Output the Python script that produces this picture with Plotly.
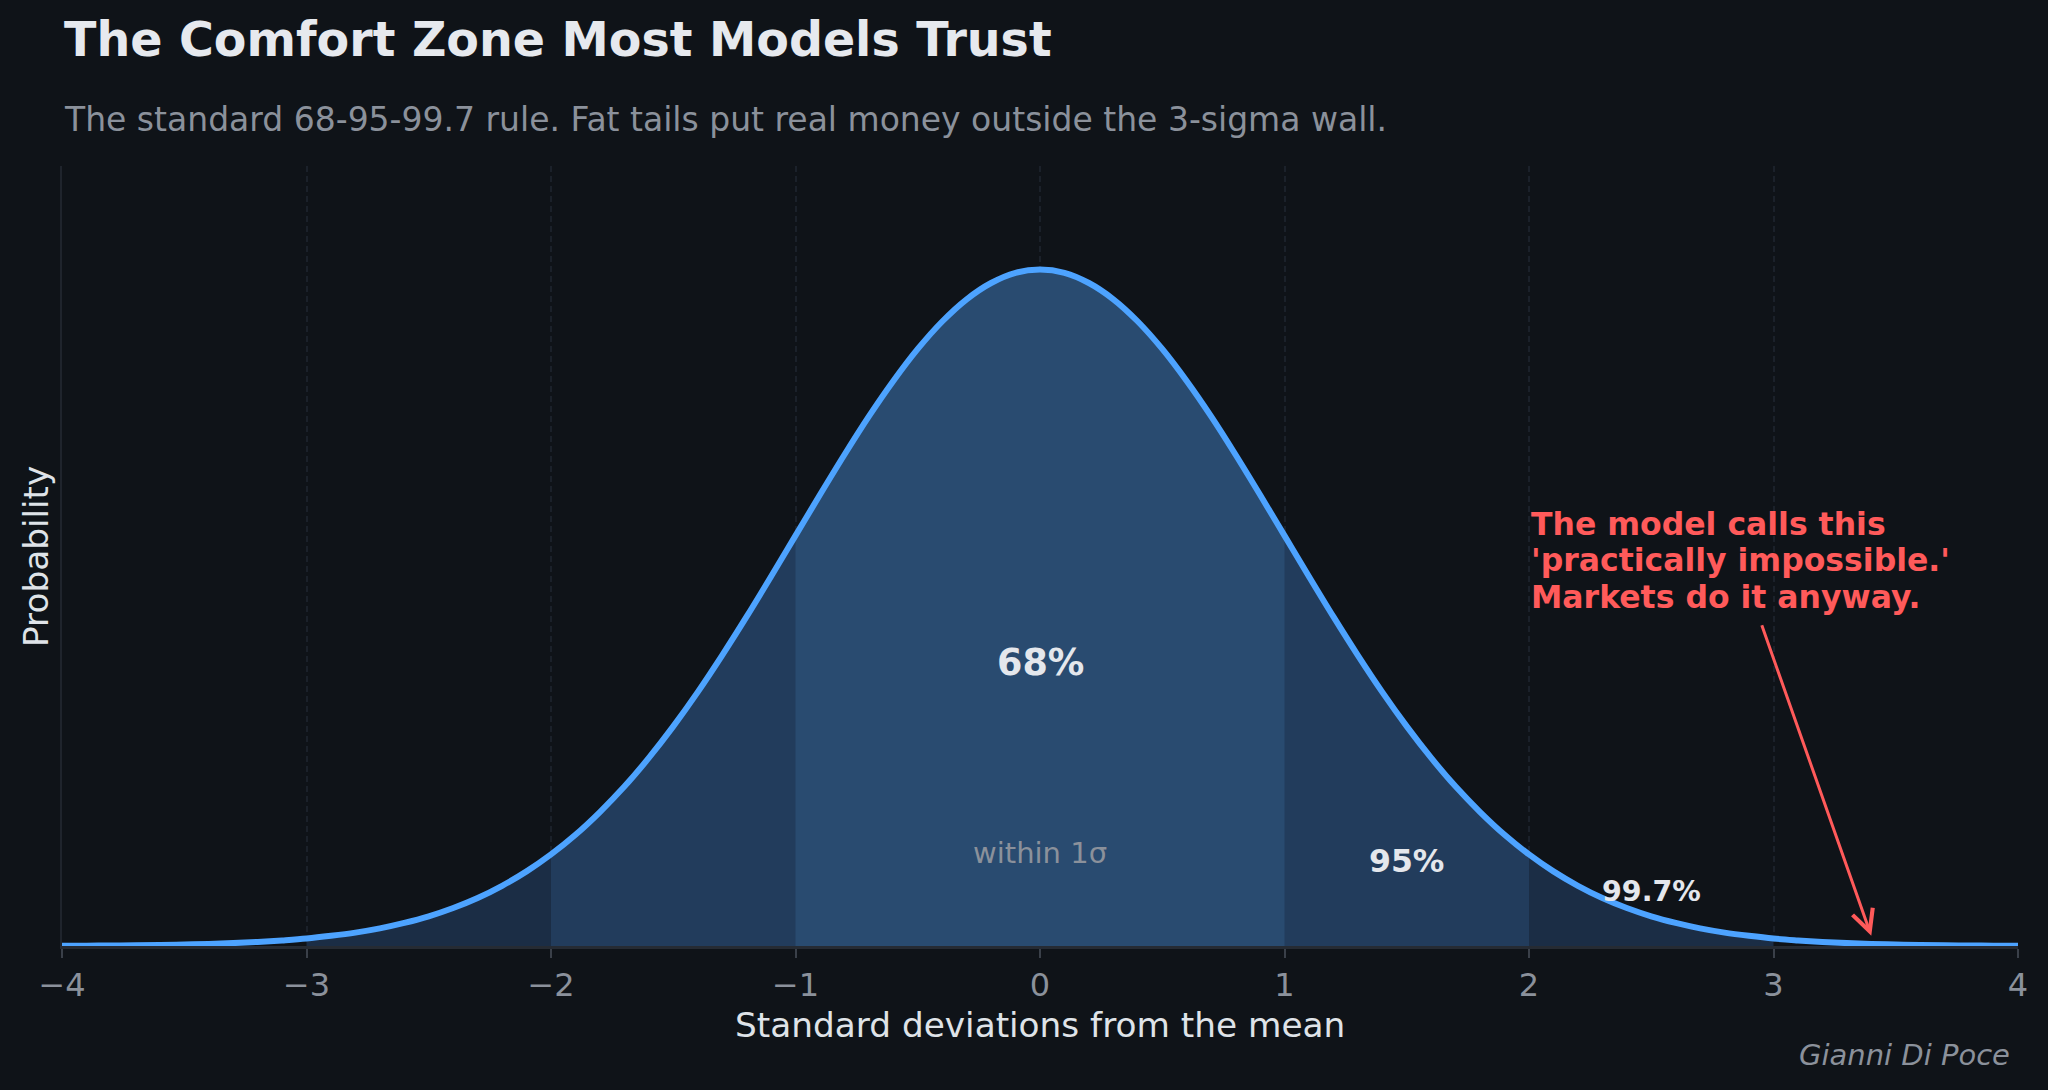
import plotly.graph_objects as go

# standard deviations from the mean, step 0.1
x_sigma = [round(-4 + i * 0.1, 1) for i in range(81)]

# density, x = 0.0 .. 4.0 (curve is symmetric)
density_right = [
    0.3989, 0.3970, 0.3910, 0.3814, 0.3683, 0.3521, 0.3332, 0.3123, 0.2897, 0.2661,
    0.2420, 0.2179, 0.1942, 0.1714, 0.1497, 0.1295, 0.1109, 0.0940, 0.0790, 0.0656,
    0.0540, 0.0440, 0.0355, 0.0283, 0.0224, 0.0175, 0.0136, 0.0104, 0.0079, 0.0060,
    0.0044, 0.0033, 0.0024, 0.0017, 0.0012, 0.0009, 0.0006, 0.0004, 0.0003, 0.0002,
    0.0001,
]
density = density_right[:0:-1] + density_right

band_limits = [3, 2, 1]
band_colors = ["#1b2d45", "#223c5c", "#294b70"]

tick_vals = [-4, -3, -2, -1, 0, 1, 2, 3, 4]
tick_text = ["\u22124", "\u22123", "\u22122", "\u22121", "0", "1", "2", "3", "4"]

band_labels = ["68%", "95%", "99.7%"]
band_label_x = [0, 1.5, 2.5]
band_label_y = [0.167, 0.05, 0.032]
band_label_size = [36.5, 31.5, 28.5]

callout_lines = ["The model calls this", "'practically impossible.'", "Markets do it anyway."]
callout_y = [0.2487, 0.2275, 0.2059]

BG = "#0f1318"
FONT = "DejaVu Sans"
CURVE = "#4da3ff"
RED = "#ff5a5a"
GREY = "#8b919b"
LIGHT = "#e4e7ec"

fig = go.Figure()

# shaded bands, widest first so the inner ones sit on top
for lim, col in zip(band_limits, band_colors):
    xs = [xv for xv in x_sigma if -lim <= xv <= lim]
    ys = [yv for xv, yv in zip(x_sigma, density) if -lim <= xv <= lim]
    fig.add_trace(go.Scatter(x=xs, y=ys, mode="lines", fill="tozeroy", line_shape="spline",
                             fillcolor=col, line=dict(width=0), hoverinfo="skip"))

fig.add_trace(go.Scatter(x=x_sigma, y=density, mode="lines", line_shape="spline",
                         line=dict(color=CURVE, width=6), hoverinfo="skip"))

# percentage labels
for t, xv, yv, sz in zip(band_labels, band_label_x, band_label_y, band_label_size):
    fig.add_annotation(x=xv, y=yv, text="<b>" + t + "</b>", showarrow=False,
                       font=dict(family=FONT, size=sz, color=LIGHT))
fig.add_annotation(x=0, y=0.055, text="within 1\u03c3", showarrow=False,
                   font=dict(family=FONT, size=29, color=GREY))

# tail callout, one line per annotation to keep matplotlib-like spacing
for line, yv in zip(callout_lines, callout_y):
    fig.add_annotation(x=2.0, y=yv, xanchor="left", yanchor="middle",
                       text="<b>" + line + "</b>", showarrow=False,
                       font=dict(family=FONT, size=31.5, color=RED))
fig.add_annotation(x=3.4, y=0.006, ax=2.95, ay=0.19, axref="x", ayref="y",
                   text="", showarrow=True, arrowhead=5, arrowsize=1.4,
                   arrowwidth=3, arrowcolor=RED)

# title block
fig.add_annotation(xref="paper", yref="paper", x=0, y=1.1628, xanchor="left", yanchor="middle",
                   text="<b>The Comfort Zone Most Models Trust</b>", showarrow=False,
                   font=dict(family=FONT, size=47.5, color="#e6e9ee"))
fig.add_annotation(xref="paper", yref="paper", x=0, y=1.059, xanchor="left", yanchor="middle",
                   text="The standard 68-95-99.7 rule. Fat tails put real money outside the 3-sigma wall.",
                   showarrow=False, font=dict(family=FONT, size=33, color=GREY))

# axis titles and credit
fig.add_annotation(xref="paper", yref="paper", x=0.5, y=-0.1013, xanchor="center", yanchor="middle",
                   text="Standard deviations from the mean", showarrow=False,
                   font=dict(family=FONT, size=34.3, color="#dfe3e8"))
fig.add_annotation(xref="paper", yref="paper", x=-0.0133, y=0.5, xanchor="center", yanchor="middle",
                   textangle=-90, text="Probability", showarrow=False,
                   font=dict(family=FONT, size=34.3, color="#dfe3e8"))
fig.add_annotation(xref="paper", yref="paper", x=0.9968, y=-0.1397, xanchor="right", yanchor="middle",
                   text="<i>Gianni Di Poce</i>", showarrow=False,
                   font=dict(family=FONT, size=29, color=GREY))

fig.update_layout(
    width=2048, height=1090,
    paper_bgcolor=BG, plot_bgcolor=BG,
    margin=dict(l=62, r=30, t=166, b=144),
    showlegend=False,
    font=dict(family=FONT, color=GREY),
)
fig.update_xaxes(range=[-4, 4], tickvals=tick_vals, ticktext=tick_text,
                 tickfont=dict(size=32, color=GREY), ticks="outside", ticklen=9,
                 tickcolor="#3a4049", tickwidth=2, ticklabelstandoff=0,
                 showgrid=True, gridcolor="#1b212a", griddash="6px,4px", gridwidth=2,
                 showline=True, linecolor="#262b33", linewidth=3, zeroline=False)
fig.update_yaxes(range=[0, 0.46], showticklabels=False, showgrid=False, zeroline=False,
                 showline=True, linecolor="#1f242c", linewidth=2, ticks="")

fig.write_html("out.html", config={"displayModeBar": False},
               post_script="document.body.style.margin='0';")
